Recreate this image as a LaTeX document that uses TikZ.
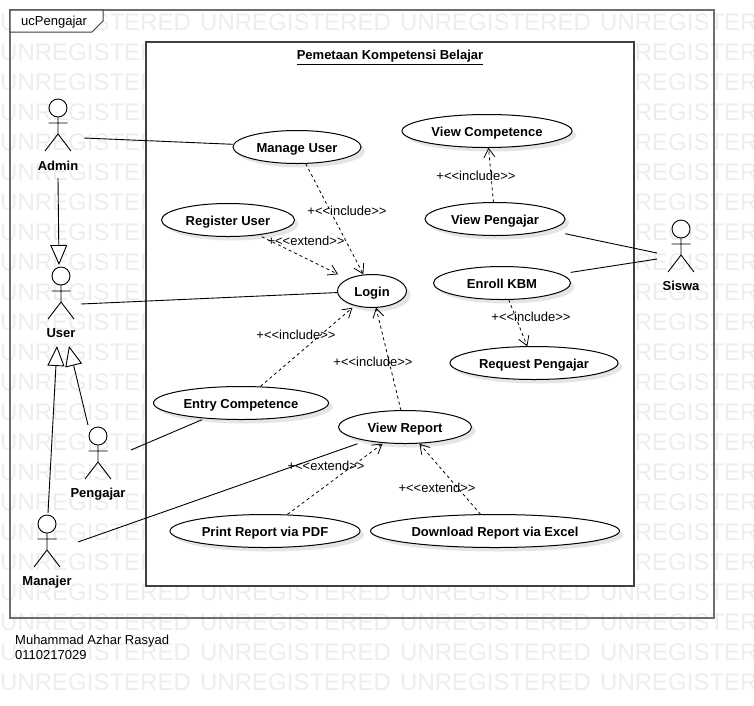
\documentclass[tikz,border=0pt]{standalone}
\usepackage{fontspec}
\setmainfont{Liberation Sans}
\usetikzlibrary{shapes.geometric,arrows.meta,shadows}

\definecolor{wmgray}{HTML}{EDEDED}
\definecolor{framegray}{HTML}{6E6E6E}
\definecolor{boxgray}{HTML}{404040}

\tikzset{
  usecase/.style={ellipse,draw,fill=white,line width=1pt,inner sep=0pt,minimum height=33,
    text height=11.3pt,text depth=0pt,
    font=\bfseries\fontsize{13}{15}\selectfont,
    drop shadow={shadow xshift=4pt,shadow yshift=-4pt,opacity=0.2}},
  ucbox/.style={inner sep=0pt,minimum height=33},
  actorname/.style={inner sep=0pt,text height=11.3pt,text depth=0pt,font=\bfseries\fontsize{13}{15}\selectfont},
  deplabel/.style={inner sep=0pt,font=\fontsize{13}{15}\selectfont},
  watermark/.style={anchor=west,inner sep=0pt,text=wmgray,font=\fontsize{24}{28}\selectfont},
  assoc/.style={draw,line width=0.9pt},
  dep/.style={draw,dashed,line width=0.8pt,-{Straight Barb[length=9pt,width=11pt]}},
  generalize/.style={draw,line width=0.9pt,-{Triangle[open,fill=white,length=20pt,width=17pt]}},
  actor/.pic={
    \draw[line width=0.9pt,fill=white] (0,0) circle (9);
    \draw[line width=0.9pt] (0,9) -- (0,26) (-9.5,15) -- (9.5,15)
      (-13,43) -- (0,26) -- (13,43);
  }
}

\begin{document}
\begin{tikzpicture}[x=1pt,y=-1pt]
  \useasboundingbox (0,0) rectangle (754,705);

  % watermark rows
  \foreach \wx in {0,200,400,600}
    \foreach \wy in {22,52,...,682}
      \node[watermark,name=wm\wx-\wy] at (\wx,\wy) {UNREGISTERED};

  % frame
  \draw[framegray,line width=1.6pt] (10,10) rectangle (714,618);
  \draw[boxgray,line width=1pt,fill=white] (10,10) -- (103,10) -- (103,21) -- (92,32) -- (10,32) -- cycle;
  \node[anchor=west,inner sep=0pt,text height=9.3pt,text depth=0pt,font=\fontsize{13}{15}\selectfont] (frametag) at (21,21) {ucPengajar};

  % system
  \draw[boxgray,line width=1.5pt,fill=white] (146,42) rectangle (634,586);
  \node[inner sep=0pt,text height=9.3pt,text depth=0pt,font=\bfseries\fontsize{13}{15}\selectfont] (systitle) at (390,55) {\underline{Pemetaan Kompetensi Belajar}};

  % use cases, each with a box that connectors stop at
  \foreach \ucname/\ux/\uy/\uw/\utext in {
      manage/297/147/128/Manage User,
      viewcomp/487/131/170/View Competence,
      register/228/220/133/Register User,
      viewpeng/495/219/140/View Pengajar,
      login/372/291/69/Login,
      enroll/502/283/137/Enroll KBM,
      request/534/363/168/Request Pengajar,
      entry/241/403/175/Entry Competence,
      report/405/427/133/View Report,
      pdf/265/531/190/Print Report via PDF,
      excel/495/531/249/Download Report via Excel} {
    \node[usecase,minimum width=\uw,name=\ucname-e] at (\ux,\uy) {\utext};
    \node[ucbox,minimum width=\uw,name=\ucname] at (\ux,\uy) {};
  }

  % actors
  \pic at (58,108) {actor};
  \pic at (61,276) {actor};
  \pic at (98,436) {actor};
  \pic at (47,524) {actor};
  \pic at (681,229) {actor};
  \node[actorname] (admin)    at (58,165)  {Admin};
  \node[actorname] (user)     at (61,332)  {User};
  \node[actorname] (pengajar) at (98,492)  {Pengajar};
  \node[actorname] (manajer)  at (47,580)  {Manajer};
  \node[actorname] (siswa)    at (681,285) {Siswa};

  % free ends
  \coordinate (adminr) at (84,138);
  \coordinate (userr)  at (81,304);
  \coordinate (pengr)  at (131,450);
  \coordinate (manr)   at (78,542);
  \coordinate (siswa1) at (657,253);
  \coordinate (siswa2) at (657,259);
  \coordinate (admint) at (58,178);
  \coordinate (usert)  at (59,265);
  \coordinate (manu)   at (48,513);
  \coordinate (userb1) at (57,346);
  \coordinate (pengu)  at (88,425);
  \coordinate (userb2) at (69,346);

  % associations
  \path[assoc] (adminr) -- (manage);
  \path[assoc] (userr) -- (login);
  \path[assoc] (pengr) -- (entry);
  \path[assoc] (manr) -- (report);
  \path[assoc] (siswa1) -- (viewpeng);
  \path[assoc] (siswa2) -- (enroll);

  % generalizations
  \path[generalize] (admint) -- (usert);
  \path[generalize] (manu) -- (userb1);
  \path[generalize] (pengu) -- (userb2);

  % dependencies
  \path[dep] (manage) -- (login);
  \path[dep] (register) -- (login);
  \path[dep] (entry) -- (login);
  \path[dep] (report) -- (login);
  \path[dep] (viewpeng) -- (viewcomp);
  \path[dep] (enroll) -- (request);
  \path[dep] (pdf) -- (report);
  \path[dep] (excel) -- (report);

  % dependency labels
  \node[deplabel] (lbmanage)   at (347,211) {+<{}<include>{}>};
  \node[deplabel] (lbregister) at (306,241) {+<{}<extend>{}>};
  \node[deplabel] (lbentry)    at (296,335) {+<{}<include>{}>};
  \node[deplabel] (lbreport)   at (373,362) {+<{}<include>{}>};
  \node[deplabel] (lbviewpeng) at (476,176) {+<{}<include>{}>};
  \node[deplabel] (lbenroll)   at (531,317) {+<{}<include>{}>};
  \node[deplabel] (lbpdf)      at (326,466) {+<{}<extend>{}>};
  \node[deplabel] (lbexcel)    at (437,488) {+<{}<extend>{}>};

  % footer
  \node[anchor=north west,inner sep=0pt,align=left,font=\fontsize{13}{15}\selectfont] (author) at (15,634.5) {Muhammad Azhar Rasyad\\0110217029};
\end{tikzpicture}
\end{document}
